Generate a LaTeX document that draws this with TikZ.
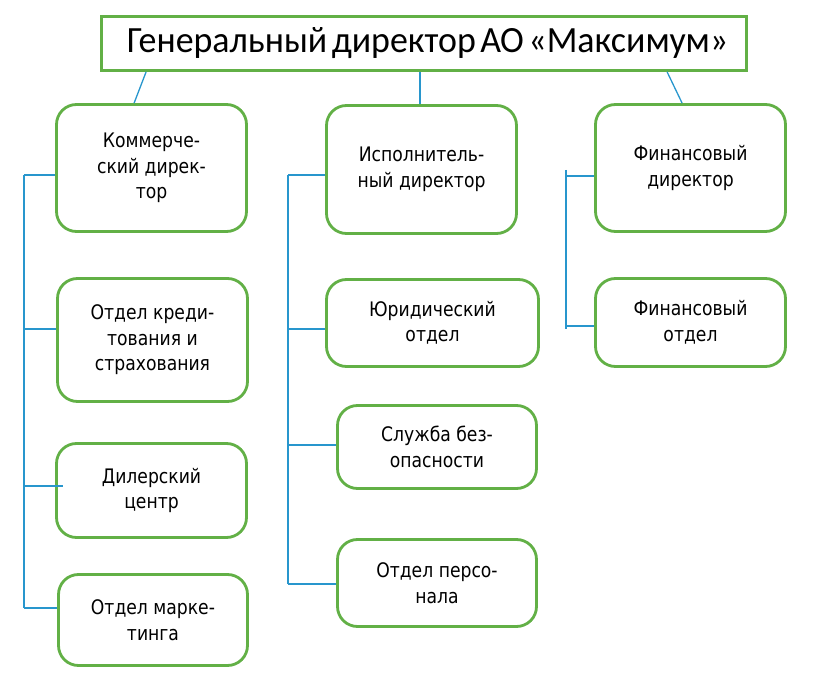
\documentclass[tikz,border=0pt]{standalone}
\usepackage{fontspec}
\setmainfont{DejaVu Sans}[FakeStretch=0.86]
\newfontfamily\titlefont{Carlito}[FakeStretch=0.97]
\usetikzlibrary{calc}
\definecolor{boxgreen}{RGB}{98,176,70}
\definecolor{linkblue}{RGB}{40,150,205}
\tikzset{
  orgbox/.style={draw=boxgreen, line width=2.8pt, rounded corners=20pt, align=center,
    font=\fontsize{20}{25.5}\selectfont, inner sep=0pt},
  conn/.style={draw=linkblue, line width=1.3pt},
}
\begin{document}
\begin{tikzpicture}[x=1pt,y=-1pt]
\useasboundingbox (0,0) rectangle (815,676);
% top box
\node[draw=boxgreen, line width=2.8pt, minimum width=645pt, minimum height=54pt, inner sep=0pt,
  font=\titlefont\fontsize{37}{40}\selectfont] (top) at (424,43.5) {\spaceskip=0.12em\relax\hspace*{7pt}Генеральный директор АО «Максимум»};
% left column
\node[orgbox, minimum width=190pt, minimum height=127pt] (com) at (151.5,168) {Коммерче-\\ский дирек-\\тор};
\node[orgbox, minimum width=190pt, minimum height=123pt] (cred) at (152.5,340) {Отдел креди-\\тования и\\страхования};
\node[orgbox, minimum width=190pt, minimum height=94pt] (deal) at (151.5,490.5) {Дилерский\\центр};
\node[orgbox, minimum width=189pt, minimum height=91pt] (mark) at (153,620) {Отдел марке-\\тинга};
% middle column
\node[orgbox, minimum width=190pt, minimum height=128pt] (exec) at (421.5,169.5) {Исполнитель-\\ный директор};
\node[orgbox, minimum width=212pt, minimum height=87pt] (legal) at (432.5,323) {Юридический\\отдел};
\node[orgbox, minimum width=199pt, minimum height=83pt] (sec) at (437,447) {Служба без-\\опасности};
\node[orgbox, minimum width=199pt, minimum height=87pt] (pers) at (437,583) {Отдел персо-\\нала};
% right column
\node[orgbox, minimum width=190pt, minimum height=127pt] (fdir) at (690.5,168) {Финансовый\\директор};
\node[orgbox, minimum width=190pt, minimum height=88pt] (fdep) at (690.5,322.5) {Финансовый\\отдел};
% top connectors
\draw[conn] ($(top.south west)+(46,0)$) -- ($(com.north west)+(79,0)$);
\draw[conn] ($(top.south west)+(320,0)$) -- ($(exec.north west)+(95,0)$);
\draw[conn] ($(top.south west)+(567,0)$) -- ($(fdir.north west)+(88,0)$);
% left spine
\coordinate (L1) at (24,175);
\coordinate (L2) at (24,329);
\coordinate (L3) at (24,486);
\coordinate (L4) at (24,608);
\draw[conn] (L1) -- (L4);
\draw[conn] (L1) -- (L1 -| com.west);
\draw[conn] (L2) -- (L2 -| cred.west);
\draw[conn] (L3) -- ($(L3 -| deal.west)+(8,0)$);
\draw[conn] (L4) -- (L4 -| mark.west);
% middle spine
\coordinate (M1) at (288,175);
\coordinate (M2) at (288,329);
\coordinate (M3) at (288,445);
\coordinate (M4) at (288,584);
\draw[conn] (M1) -- (M4);
\draw[conn] (M1) -- (M1 -| exec.west);
\draw[conn] (M2) -- (M2 -| legal.west);
\draw[conn] (M3) -- (M3 -| sec.west);
\draw[conn] (M4) -- (M4 -| pers.west);
% right spine
\coordinate (R0) at (566,170);
\coordinate (R1) at (566,176);
\coordinate (R2) at (566,326);
\coordinate (R3) at (566,329);
\draw[conn] (R0) -- (R3);
\draw[conn] (R1) -- (R1 -| fdir.west);
\draw[conn] (R2) -- (R2 -| fdep.west);
\end{tikzpicture}
\end{document}
